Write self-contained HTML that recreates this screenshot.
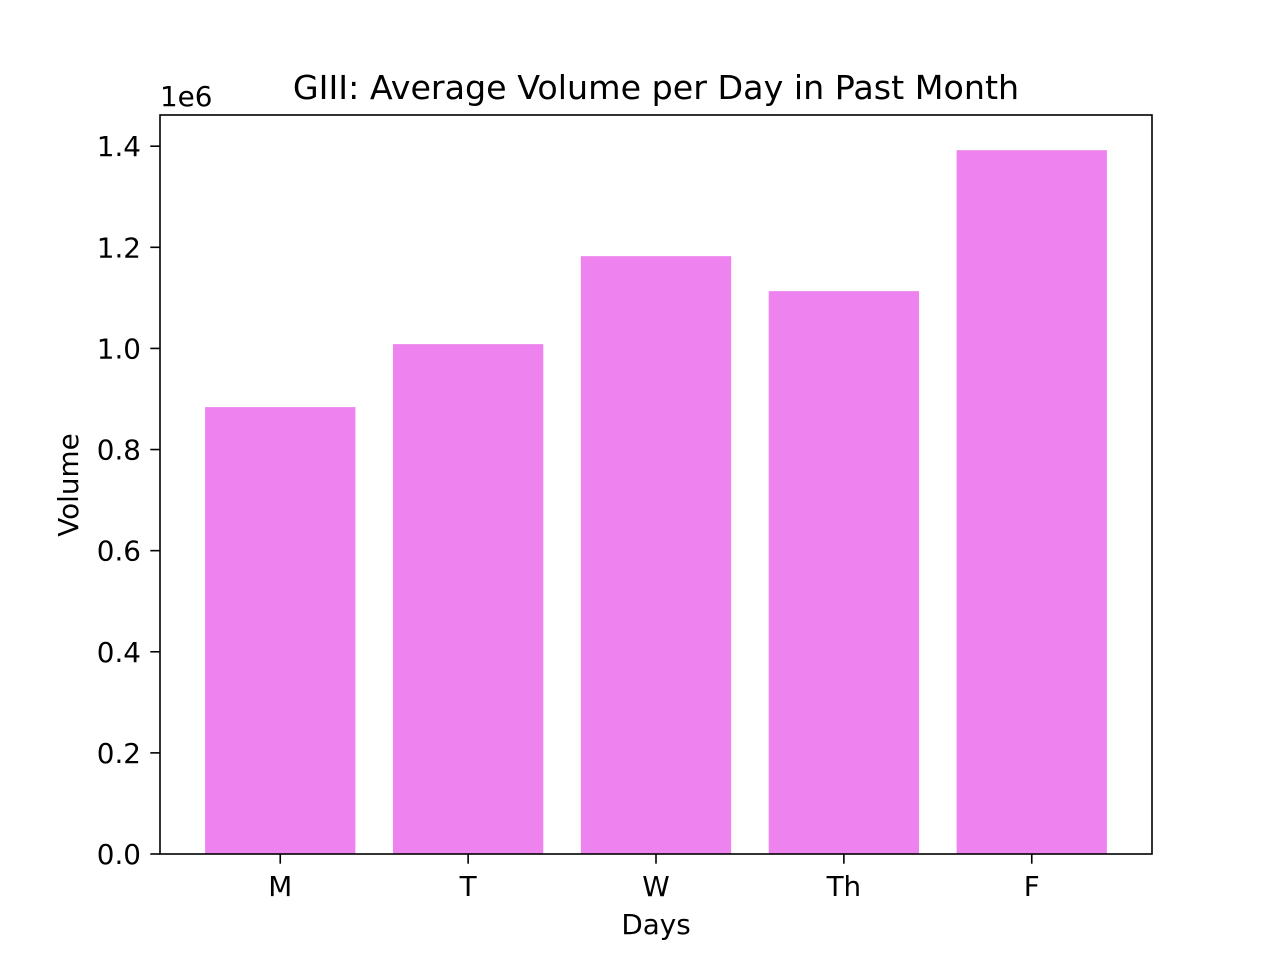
<!DOCTYPE html>
<html><head><meta charset="utf-8"><style>
html,body{margin:0;padding:0;background:#fff;}
svg{display:block;font-family:"DejaVu Sans","Liberation Sans",sans-serif;}
</style></head><body>
<svg id="chart" width="1280" height="960" xmlns="http://www.w3.org/2000/svg"></svg>
<script>
const categories = ["M","T","W","Th","F"];
const values = [0.8839, 1.0085, 1.1825, 1.1133, 1.3921];
const yTicks = [0, 0.2, 0.4, 0.6, 0.8, 1.0, 1.2, 1.4];
const yTickLabels = ["0.0","0.2","0.4","0.6","0.8","1.0","1.2","1.4"];

const L=160,R=1152,T=115,B=854;
const ymax=Math.max(...values)*1.05;
const xmin=-0.4-0.05*(categories.length-0.2), xmax=categories.length-1+0.4+0.05*(categories.length-0.2);
const ys=v=>B-(v/ymax)*(B-T);
const xs=v=>L+(v-xmin)/(xmax-xmin)*(R-L);
const NS="http://www.w3.org/2000/svg";
const svg=document.getElementById('chart');
function mk(tag,attrs,text){const e=document.createElementNS(NS,tag);for(const k in attrs)e.setAttribute(k,attrs[k]);if(text!==undefined)e.textContent=text;svg.appendChild(e);return e;}

categories.forEach((c,i)=>{
  const b=mk('rect',{x:xs(i-0.4),y:ys(values[i]),width:xs(i+0.4)-xs(i-0.4),height:B-ys(values[i]),fill:'#ee82ee'});
  
  
  const t=mk('line',{x1:xs(i),x2:xs(i),y1:B,y2:B+9.7,stroke:'#000','stroke-width':1.6});
  
  
  const l=mk('text',{x:xs(i),y:B+42,'text-anchor':'middle','font-size':'27.8px'},c);
  
  
});
yTicks.forEach((v,i)=>{
  const t=mk('line',{x1:L-9.7,x2:L,y1:ys(v),y2:ys(v),stroke:'#000','stroke-width':1.6});
  
  
  const l=mk('text',{x:L-19,y:ys(v)+10,'text-anchor':'end','font-size':'27.8px'},yTickLabels[i]);
  
  
});
const frame=mk('rect',{x:L,y:T,width:R-L,height:B-T,fill:'none',stroke:'#000','stroke-width':1.6});


const off=mk('text',{x:160,y:106,'font-size':'27.8px'},'1e6');


const title=mk('text',{x:(L+R)/2,y:99,'text-anchor':'middle','font-size':'33.3px'},'GIII: Average Volume per Day in Past Month');


const xt=mk('text',{x:(L+R)/2,y:934,'text-anchor':'middle','font-size':'27.8px'},'Days');


const yt=mk('text',{x:0,y:0,'text-anchor':'middle','font-size':'27.8px',transform:'translate(78,485) rotate(-90)'},'Volume');


</script>
</body></html>
